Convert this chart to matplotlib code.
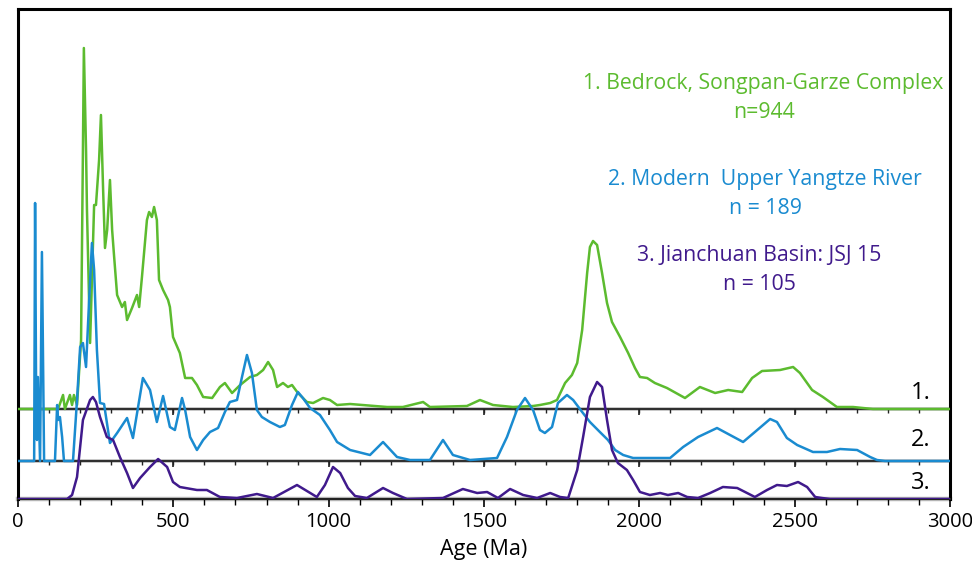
import numpy as np
import matplotlib.pyplot as plt

# Detrital zircon age spectra (relative probability, arbitrary units)
green_age = [0, 129, 145, 151, 167, 174, 180, 190, 203, 209, 212, 219, 222, 232, 238, 245, 251,
             261, 267, 274, 280, 287, 296, 303, 309, 319, 335, 344, 351, 367, 383, 390, 399,
             415, 422, 431, 438, 447, 454, 467, 483, 489, 499, 521, 538, 560, 576, 596, 625,
             650, 666, 689, 715, 747, 769, 789, 805, 821, 834, 853, 869, 882, 901, 930, 950,
             982, 1004, 1027, 1069, 1188, 1239, 1304, 1326, 1445, 1487, 1529, 1593, 1658,
             1680, 1713, 1735, 1761, 1783, 1800, 1816, 1832, 1841, 1851, 1864, 1880, 1896,
             1912, 1938, 1964, 1986, 2002, 2025, 2050, 2089, 2147, 2195, 2244, 2286, 2331,
             2363, 2395, 2453, 2495, 2517, 2556, 2591, 2636, 2688, 2752, 3000]
green_val = [0, 0, 14, 0, 14, 4, 14, 4, 69, 259, 361, 259, 199, 66, 129, 204, 204,
             249, 294, 219, 161, 179, 229, 179, 154, 114, 102, 107, 89, 101, 114, 102, 132,
             189, 197, 192, 202, 189, 129, 119, 109, 102, 72, 56, 31, 31, 24, 12, 11,
             22, 26, 16, 24, 32, 34, 39, 47, 39, 22, 26, 22, 24, 16, 7, 6,
             11, 9, 4, 5, 2, 2, 7, 2, 3, 9, 4, 2, 3,
             4, 6, 9, 26, 34, 46, 79, 136, 162, 168, 164, 136, 106,
             87, 72, 56, 41, 32, 31, 26, 21, 11, 22, 16, 19, 17,
             31, 38, 39, 42, 36, 19, 12, 2, 2, 0, 0]

blue_age = [0, 52, 55, 58, 61, 64, 71, 77, 84, 119, 126, 129, 135, 142, 148, 177, 190, 200,
            209, 219, 229, 238, 245, 254, 264, 277, 296, 319, 351, 370, 402, 425, 447, 467,
            489, 505, 528, 538, 554, 576, 596, 618, 644, 666, 682, 705, 721, 737, 753, 769,
            785, 811, 843, 859, 882, 901, 917, 940, 972, 1004, 1027, 1069, 1133, 1175, 1220,
            1262, 1326, 1368, 1400, 1455, 1542, 1574, 1606, 1632, 1658, 1680, 1696, 1719,
            1738, 1767, 1787, 1816, 1841, 1873, 1899, 1922, 1948, 1980, 2099, 2141, 2189,
            2250, 2292, 2334, 2372, 2421, 2443, 2475, 2508, 2559, 2604, 2646, 2701, 2743,
            2765, 2791, 3000]
blue_val = [0, 0, 258, 84, 21, 84, 0, 209, 0, 0, 56, 41, 44, 24, 0, 0, 61, 114,
            118, 94, 161, 218, 191, 111, 58, 57, 18, 28, 43, 23, 83, 71, 39, 65,
            34, 31, 63, 51, 24, 11, 21, 29, 33, 49, 59, 61, 84, 106, 88, 51,
            44, 39, 34, 36, 56, 69, 63, 53, 46, 31, 19, 11, 6, 19, 4,
            1, 1, 21, 6, 1, 3, 24, 51, 63, 51, 31, 28, 34,
            58, 66, 61, 49, 39, 29, 21, 11, 6, 3, 3, 14, 24,
            33, 26, 19, 29, 42, 39, 23, 16, 9, 9, 12, 11, 4,
            1, 0, 0]

purple_age = [0, 158, 174, 190, 209, 232, 241, 251, 264, 286, 306, 328, 351, 370, 393, 425,
              451, 480, 499, 521, 576, 608, 650, 705, 769, 821, 898, 962, 988, 1014, 1037,
              1062, 1085, 1123, 1175, 1207, 1252, 1368, 1432, 1478, 1510, 1545, 1584, 1626,
              1671, 1713, 1745, 1771, 1800, 1819, 1841, 1864, 1880, 1896, 1912, 1931, 1960,
              1980, 2002, 2034, 2067, 2092, 2125, 2154, 2189, 2228, 2269, 2315, 2372, 2411,
              2443, 2475, 2511, 2540, 2566, 2588, 2614, 3000]
purple_val = [0, 0, 4, 22, 79, 99, 102, 97, 82, 62, 59, 42, 26, 11, 21, 32,
              40, 32, 17, 12, 9, 9, 2, 1, 5, 1, 14, 2, 14, 32, 26,
              11, 3, 1, 11, 6, 0, 1, 10, 6, 7, 1, 10, 4,
              1, 6, 2, 1, 29, 62, 102, 117, 112, 79, 49, 36, 29,
              19, 7, 4, 6, 4, 6, 2, 1, 6, 12, 11, 2, 9,
              14, 13, 17, 12, 2, 1, 0, 0]

green_base, blue_base, purple_base = 90, 38, 0

green = '#5cbb2f'
blue = '#1a8bd0'
purple = '#401a8c'

plt.rcParams['font.family'] = ['Open Sans', 'DejaVu Sans']

fig = plt.figure(figsize=(9.72, 5.67), dpi=100)
ax = fig.add_axes([18 / 972, 68 / 567, 932 / 972, 490 / 567])
ax.set_xlim(0, 3000)
ax.set_ylim(0, 490)

# baselines with their own tick marks
minor = np.arange(0, 3001, 100)
major = np.arange(0, 3001, 500)
for base in (green_base, blue_base):
    ax.axhline(base, color='#bbbbbb', lw=2.6, zorder=1)
    ax.axhline(base, color='#222222', lw=1.3, zorder=1)
    ax.vlines(minor, base - 4, base, color='#222222', lw=1.0, zorder=1)
    ax.vlines(major, base - 6, base, color='#222222', lw=1.2, zorder=1)
ax.axhline(purple_base, color='#bbbbbb', lw=3.2, zorder=1, clip_on=False)

ax.plot(green_age, np.array(green_val) + green_base, color=green, lw=1.8, zorder=3)
ax.plot(blue_age, np.array(blue_val) + blue_base, color=blue, lw=1.8, zorder=3)
ax.plot(purple_age, np.array(purple_val) + purple_base, color=purple, lw=1.8, zorder=4)

ax.text(2400, 401, '1. Bedrock, Songpan-Garze Complex\nn=944', color=green,
        fontsize=15.3, ha='center', va='center', linespacing=1.45)
ax.text(2405, 305, '2. Modern  Upper Yangtze River\nn = 189', color=blue,
        fontsize=15.3, ha='center', va='center', linespacing=1.45)
ax.text(2385, 229, '3. Jianchuan Basin: JSJ 15\nn = 105', color=purple,
        fontsize=15.3, ha='center', va='center', linespacing=1.45)

ax.text(2905, 106, '1.', fontsize=17, ha='center', va='center')
ax.text(2905, 59, '2.', fontsize=17, ha='center', va='center')
ax.text(2905, 16, '3.', fontsize=17, ha='center', va='center')

ax.set_xticks(major)
ax.set_xticks(minor, minor=True)
ax.tick_params(axis='x', which='major', direction='out', length=6, width=1.2, labelsize=14.5)
ax.tick_params(axis='x', which='minor', direction='out', length=4, width=1.0)
ax.set_yticks([])
ax.set_xlabel('Age (Ma)', fontsize=15.5, labelpad=5)

for side in ('left', 'top', 'right'):
    ax.spines[side].set_linewidth(2.2)
ax.spines['bottom'].set_linewidth(1.5)
ax.spines['bottom'].set_color('#222222')

fig.savefig('out.png', dpi=100)
